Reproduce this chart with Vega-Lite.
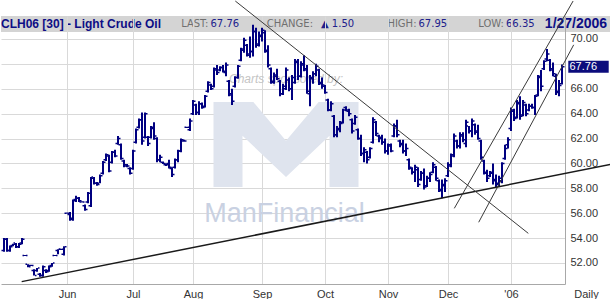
{
"$schema": "https://vega.github.io/schema/vega-lite/v6.json",
"padding": 0,
"background": "white",
"spacing": 0,
"bounds": "flush",
"config": {"view": {"stroke": null}, "concat": {"spacing": 0}, "font": "Liberation Sans"},
"datasets": {
"ohlc": [
{"i":0,"o":53.0,"h":54.0,"l":52.9,"c":53.9},{"i":1,"o":53.9,"h":54.0,"l":52.9,"c":53.0},{"i":2,"o":53.0,"h":53.4,"l":52.9,"c":53.3},{"i":3,"o":53.4,"h":53.55,"l":53.35,"c":53.5},{"i":4,"o":53.6,"h":53.6,"l":53.2,"c":53.3},{"i":5,"o":53.3,"h":53.6,"l":53.2,"c":53.5},{"i":6,"o":53.6,"h":54.0,"l":53.5,"c":53.9},{"i":7,"o":52.6,"h":52.65,"l":52.55,"c":52.6},{"i":8,"o":51.9,"h":51.9,"l":51.65,"c":51.7},{"i":9,"o":51.8,"h":51.85,"l":51.75,"c":51.8},
{"i":10,"o":51.4,"h":51.5,"l":51.0,"c":51.0},{"i":11,"o":51.4,"h":51.6,"l":51.3,"c":51.6},{"i":12,"o":51.1,"h":51.2,"l":50.9,"c":51.0},{"i":13,"o":51.0,"h":51.8,"l":50.9,"c":51.7},{"i":14,"o":51.4,"h":51.5,"l":51.2,"c":51.3},{"i":15,"o":51.4,"h":51.8,"l":51.3,"c":51.7},{"i":16,"o":51.8,"h":52.0,"l":51.7,"c":52.0},{"i":17,"o":52.6,"h":52.65,"l":52.55,"c":52.6},{"i":18,"o":53.0,"h":53.1,"l":52.7,"c":53.1},{"i":19,"o":53.1,"h":53.15,"l":53.05,"c":53.1},
{"i":20,"o":52.7,"h":53.35,"l":52.6,"c":53.3},{"i":21,"o":56.0,"h":56.05,"l":55.95,"c":56.0},{"i":22,"o":55.9,"h":56.1,"l":55.4,"c":55.5},{"i":23,"o":55.6,"h":57.1,"l":55.4,"c":57.0},{"i":24,"o":57.1,"h":57.4,"l":56.9,"c":57.2},{"i":25,"o":57.2,"h":57.3,"l":56.9,"c":57.0},{"i":26,"o":56.9,"h":56.95,"l":56.85,"c":56.9},{"i":27,"o":56.6,"h":56.7,"l":56.2,"c":56.3},{"i":28,"o":56.9,"h":57.7,"l":56.8,"c":57.6},{"i":29,"o":56.6,"h":58.9,"l":56.5,"c":58.8},
{"i":30,"o":58.9,"h":58.9,"l":58.3,"c":58.4},{"i":31,"o":58.4,"h":58.5,"l":58.2,"c":58.3},{"i":32,"o":58.4,"h":59.1,"l":58.4,"c":59.0},{"i":33,"o":59.2,"h":60.2,"l":59.1,"c":60.1},{"i":34,"o":60.3,"h":60.8,"l":60.2,"c":60.7},{"i":35,"o":60.6,"h":60.7,"l":59.3,"c":59.4},{"i":36,"o":60.1,"h":61.0,"l":60.0,"c":60.9},{"i":37,"o":60.9,"h":61.1,"l":60.5,"c":60.6},{"i":38,"o":61.6,"h":62.2,"l":61.5,"c":62.0},{"i":39,"o":61.5,"h":61.6,"l":60.3,"c":60.4},
{"i":40,"o":60.2,"h":60.3,"l":59.7,"c":59.8},{"i":41,"o":59.9,"h":59.95,"l":59.7,"c":59.8},{"i":42,"o":59.6,"h":59.7,"l":59.1,"c":59.2},{"i":43,"o":59.6,"h":61.1,"l":59.5,"c":61.0},{"i":44,"o":61.7,"h":62.8,"l":61.6,"c":62.7},{"i":45,"o":62.9,"h":63.6,"l":62.8,"c":63.5},{"i":46,"o":63.5,"h":64.1,"l":61.5,"c":61.8},{"i":47,"o":62.1,"h":64.1,"l":62.0,"c":64.0},{"i":48,"o":62.1,"h":62.2,"l":61.4,"c":61.6},{"i":49,"o":62.1,"h":63.0,"l":62.0,"c":62.9},
{"i":50,"o":62.8,"h":63.3,"l":61.9,"c":62.2},{"i":51,"o":62.0,"h":62.1,"l":60.1,"c":60.3},{"i":52,"o":60.3,"h":60.7,"l":60.1,"c":60.5},{"i":53,"o":60.1,"h":60.15,"l":59.95,"c":60.0},{"i":54,"o":59.9,"h":60.0,"l":59.8,"c":59.9},{"i":55,"o":60.0,"h":60.3,"l":59.6,"c":59.7},{"i":56,"o":59.6,"h":59.7,"l":58.9,"c":59.1},{"i":57,"o":59.7,"h":60.4,"l":59.6,"c":60.3},{"i":58,"o":60.3,"h":61.1,"l":60.1,"c":61.0},{"i":59,"o":61.0,"h":62.0,"l":60.9,"c":61.9},
{"i":60,"o":61.8,"h":61.9,"l":61.75,"c":61.8},{"i":61,"o":62.9,"h":62.95,"l":62.85,"c":62.9},{"i":62,"o":62.7,"h":63.6,"l":62.6,"c":63.4},{"i":63,"o":64.0,"h":65.1,"l":63.9,"c":65.0},{"i":64,"o":64.7,"h":64.8,"l":63.9,"c":64.1},{"i":65,"o":64.1,"h":65.0,"l":63.9,"c":64.8},{"i":66,"o":64.8,"h":64.9,"l":64.4,"c":64.5},{"i":67,"o":64.6,"h":65.5,"l":64.5,"c":65.4},{"i":68,"o":65.8,"h":66.6,"l":65.7,"c":66.5},{"i":69,"o":66.3,"h":66.4,"l":65.9,"c":66.0},
{"i":70,"o":66.2,"h":67.7,"l":66.1,"c":67.6},{"i":71,"o":67.5,"h":67.9,"l":67.1,"c":67.3},{"i":72,"o":67.5,"h":67.8,"l":67.4,"c":67.7},{"i":73,"o":67.7,"h":67.9,"l":67.3,"c":67.4},{"i":74,"o":67.3,"h":68.1,"l":67.0,"c":67.9},{"i":75,"o":66.6,"h":66.7,"l":65.4,"c":65.6},{"i":76,"o":65.5,"h":66.0,"l":64.7,"c":65.0},{"i":77,"o":66.2,"h":67.0,"l":66.1,"c":66.9},{"i":78,"o":66.9,"h":67.9,"l":66.8,"c":67.8},{"i":79,"o":68.3,"h":69.3,"l":68.2,"c":69.2},
{"i":80,"o":69.1,"h":70.1,"l":68.9,"c":69.9},{"i":81,"o":69.5,"h":69.6,"l":68.6,"c":68.8},{"i":82,"o":68.7,"h":70.2,"l":68.5,"c":69.0},{"i":83,"o":69.0,"h":71.15,"l":68.6,"c":70.6},{"i":84,"o":70.6,"h":70.9,"l":69.3,"c":69.5},{"i":85,"o":69.6,"h":70.6,"l":69.4,"c":70.3},{"i":86,"o":70.2,"h":70.9,"l":69.8,"c":70.7},{"i":87,"o":70.5,"h":70.7,"l":68.9,"c":69.1},{"i":88,"o":69.0,"h":69.5,"l":67.7,"c":67.9},{"i":89,"o":67.6,"h":67.7,"l":66.4,"c":66.6},
{"i":90,"o":66.5,"h":67.3,"l":66.4,"c":67.1},{"i":91,"o":67.0,"h":67.6,"l":66.7,"c":66.8},{"i":92,"o":66.6,"h":66.7,"l":65.4,"c":65.6},{"i":93,"o":65.6,"h":66.4,"l":65.5,"c":66.2},{"i":94,"o":66.0,"h":67.7,"l":65.9,"c":67.5},{"i":95,"o":66.7,"h":66.9,"l":65.8,"c":66.0},{"i":96,"o":66.0,"h":67.1,"l":65.1,"c":66.9},{"i":97,"o":66.5,"h":68.4,"l":66.4,"c":68.2},{"i":98,"o":68.1,"h":68.4,"l":66.7,"c":67.0},{"i":99,"o":67.0,"h":68.2,"l":66.9,"c":68.0},
{"i":100,"o":67.9,"h":68.7,"l":67.4,"c":67.6},{"i":101,"o":67.5,"h":67.9,"l":65.6,"c":65.8},{"i":102,"o":65.6,"h":67.1,"l":64.6,"c":66.9},{"i":103,"o":66.8,"h":67.4,"l":66.4,"c":67.2},{"i":104,"o":67.2,"h":68.0,"l":67.0,"c":67.8},{"i":105,"o":67.5,"h":67.6,"l":66.3,"c":66.4},{"i":106,"o":66.5,"h":66.9,"l":66.0,"c":66.3},{"i":107,"o":66.2,"h":66.3,"l":65.6,"c":65.7},{"i":108,"o":65.1,"h":65.2,"l":64.2,"c":64.3},{"i":109,"o":64.3,"h":65.0,"l":64.2,"c":64.8},
{"i":110,"o":63.8,"h":63.9,"l":62.1,"c":62.3},{"i":111,"o":62.3,"h":63.0,"l":62.1,"c":62.8},{"i":112,"o":62.7,"h":63.4,"l":62.5,"c":63.2},{"i":113,"o":63.3,"h":64.4,"l":63.2,"c":64.3},{"i":114,"o":64.5,"h":64.6,"l":64.2,"c":64.3},{"i":115,"o":64.2,"h":64.4,"l":63.8,"c":64.0},{"i":116,"o":63.5,"h":63.6,"l":62.4,"c":62.6},{"i":117,"o":63.2,"h":63.9,"l":63.1,"c":63.7},{"i":118,"o":62.7,"h":62.8,"l":61.9,"c":62.0},{"i":119,"o":62.0,"h":62.3,"l":60.6,"c":60.8},
{"i":120,"o":60.8,"h":61.3,"l":60.1,"c":61.1},{"i":121,"o":60.9,"h":61.0,"l":60.0,"c":60.3},{"i":122,"o":60.5,"h":61.3,"l":60.4,"c":61.2},{"i":123,"o":61.7,"h":63.7,"l":61.6,"c":63.5},{"i":124,"o":63.3,"h":63.4,"l":62.2,"c":62.4},{"i":125,"o":62.2,"h":62.3,"l":61.7,"c":62.0},{"i":126,"o":62.1,"h":62.3,"l":61.5,"c":61.7},{"i":127,"o":61.7,"h":62.0,"l":60.8,"c":61.0},{"i":128,"o":61.0,"h":61.6,"l":60.7,"c":61.5},{"i":129,"o":61.4,"h":61.6,"l":60.9,"c":61.0},
{"i":130,"o":62.2,"h":63.2,"l":62.1,"c":63.0},{"i":131,"o":63.0,"h":63.5,"l":62.1,"c":62.3},{"i":132,"o":61.8,"h":61.9,"l":61.3,"c":61.5},{"i":133,"o":61.6,"h":61.9,"l":60.8,"c":61.0},{"i":134,"o":61.0,"h":61.6,"l":60.6,"c":61.2},{"i":135,"o":60.3,"h":60.4,"l":59.5,"c":59.7},{"i":136,"o":59.6,"h":59.7,"l":59.1,"c":59.3},{"i":137,"o":59.3,"h":59.9,"l":58.5,"c":59.7},{"i":138,"o":59.5,"h":59.7,"l":58.1,"c":58.3},{"i":139,"o":58.7,"h":59.4,"l":58.6,"c":59.2},
{"i":140,"o":59.2,"h":59.6,"l":57.9,"c":58.1},{"i":141,"o":58.2,"h":59.0,"l":58.1,"c":58.8},{"i":142,"o":58.8,"h":59.3,"l":58.5,"c":59.1},{"i":143,"o":59.3,"h":60.1,"l":59.2,"c":59.9},{"i":144,"o":59.7,"h":59.8,"l":58.6,"c":58.8},{"i":145,"o":58.6,"h":58.7,"l":57.7,"c":57.9},{"i":146,"o":57.8,"h":58.7,"l":57.2,"c":58.3},{"i":147,"o":58.2,"h":58.8,"l":57.7,"c":58.6},{"i":148,"o":59.0,"h":60.1,"l":58.9,"c":59.9},{"i":149,"o":59.8,"h":60.8,"l":59.7,"c":60.7},
{"i":150,"o":60.6,"h":62.4,"l":60.5,"c":62.2},{"i":151,"o":61.8,"h":61.9,"l":61.2,"c":61.4},{"i":152,"o":61.4,"h":62.5,"l":61.2,"c":62.3},{"i":153,"o":62.2,"h":62.5,"l":61.7,"c":61.9},{"i":154,"o":61.6,"h":63.5,"l":61.3,"c":63.3},{"i":155,"o":63.0,"h":63.0,"l":62.4,"c":62.6},{"i":156,"o":62.6,"h":63.6,"l":62.1,"c":63.4},{"i":157,"o":63.1,"h":63.2,"l":62.3,"c":62.5},{"i":158,"o":62.6,"h":63.1,"l":61.9,"c":62.0},{"i":159,"o":61.8,"h":61.9,"l":60.3,"c":60.5},
{"i":160,"o":60.2,"h":60.3,"l":59.1,"c":59.3},{"i":161,"o":59.2,"h":59.5,"l":58.5,"c":58.8},{"i":162,"o":59.0,"h":59.4,"l":58.9,"c":59.2},{"i":163,"o":59.3,"h":60.0,"l":58.3,"c":58.6},{"i":164,"o":58.7,"h":59.1,"l":58.1,"c":58.4},{"i":165,"o":58.3,"h":59.0,"l":58.1,"c":58.8},{"i":166,"o":58.6,"h":60.1,"l":58.4,"c":60.0},{"i":167,"o":60.4,"h":61.5,"l":60.3,"c":61.2},{"i":168,"o":61.5,"h":62.1,"l":61.2,"c":61.9},{"i":169,"o":62.8,"h":64.5,"l":62.6,"c":64.3},
{"i":170,"o":64.2,"h":64.4,"l":63.4,"c":63.6},{"i":171,"o":63.7,"h":65.1,"l":63.6,"c":64.9},{"i":172,"o":64.8,"h":65.4,"l":63.5,"c":63.8},{"i":173,"o":63.9,"h":65.1,"l":63.8,"c":64.9},{"i":174,"o":64.7,"h":64.8,"l":63.8,"c":64.0},{"i":175,"o":64.3,"h":64.8,"l":64.2,"c":64.6},{"i":176,"o":64.6,"h":64.8,"l":64.4,"c":64.5},{"i":177,"o":64.5,"h":65.5,"l":63.9,"c":65.4},{"i":178,"o":65.5,"h":67.1,"l":65.4,"c":67.0},{"i":179,"o":66.9,"h":67.5,"l":65.8,"c":66.2},
{"i":180,"o":67.6,"h":68.3,"l":67.5,"c":68.2},{"i":181,"o":68.4,"h":69.2,"l":68.2,"c":68.8},{"i":182,"o":68.3,"h":68.4,"l":67.4,"c":67.6},{"i":183,"o":67.5,"h":68.1,"l":67.0,"c":67.2},{"i":184,"o":67.0,"h":67.2,"l":65.5,"c":65.8},{"i":185,"o":65.7,"h":66.7,"l":65.4,"c":66.26},{"i":186,"o":66.4,"h":67.95,"l":66.35,"c":67.76}
],
"lines": [
{"n":"support","i1":5.9,"p1":50.5,"i2":202.33,"p2":59.93},
{"n":"down","i1":77.1,"p1":73.05,"i2":174.77,"p2":54.38},
{"n":"chanUp","i1":150.1,"p1":56.39,"i2":189.7,"p2":73.05},
{"n":"chanLow","i1":158.23,"p1":55.27,"i2":189.9,"p2":69.53}
]
},
"vconcat": [
{
"hconcat": [
{"width": 160, "height": 16, "view": {"fill": "#d4d4d4", "stroke": null},
 "data": {"values": [{"t": "CLH06 [30] - Light Crude Oil"}]},
 "mark": {"type": "text", "font": "Liberation Sans", "fontWeight": "bold", "fontSize": 12, "fill": "#0d0d85", "baseline": "middle"},
 "encoding": {"text": {"field": "t"}}},
{"width": 97, "height": 16, "view": {"fill": "#d4d4d4", "stroke": null},
 "data": {"values": [{"k": "LAST:", "v": "67.76"}]},
 "layer": [
  {"mark": {"type": "text", "align": "right", "dx": -1, "font": "DejaVu Sans", "fontSize": 10, "fill": "#707070", "baseline": "middle"}, "encoding": {"text": {"field": "k"}}},
  {"mark": {"type": "text", "align": "left", "dx": 1, "font": "DejaVu Sans", "fontSize": 10, "fill": "#20208c", "baseline": "middle"}, "encoding": {"text": {"field": "v"}}}
 ]},
{"width": 118, "height": 16, "view": {"fill": "#d4d4d4", "stroke": null},
 "data": {"values": [{"k": "CHANGE:", "v": "▲ 1.50"}]},
 "layer": [
  {"mark": {"type": "text", "align": "right", "dx": -4, "font": "DejaVu Sans", "fontSize": 10, "fill": "#707070", "baseline": "middle"}, "encoding": {"text": {"field": "k"}}},
  {"mark": {"type": "text", "align": "left", "dx": 4, "font": "DejaVu Sans", "fontSize": 10, "fill": "#20208c", "baseline": "middle"}, "encoding": {"text": {"field": "v"}}}
 ]},
{"width": 83, "height": 16, "view": {"fill": "#d4d4d4", "stroke": null},
 "data": {"values": [{"k": "HIGH:", "v": "67.95"}]},
 "layer": [
  {"mark": {"type": "text", "align": "right", "dx": -1, "font": "DejaVu Sans", "fontSize": 10, "fill": "#707070", "baseline": "middle"}, "encoding": {"text": {"field": "k"}}},
  {"mark": {"type": "text", "align": "left", "dx": 1, "font": "DejaVu Sans", "fontSize": 10, "fill": "#20208c", "baseline": "middle"}, "encoding": {"text": {"field": "v"}}}
 ]},
{"width": 92, "height": 16, "view": {"fill": "#d4d4d4", "stroke": null},
 "data": {"values": [{"k": "LOW:", "v": "66.35"}]},
 "layer": [
  {"mark": {"type": "text", "align": "right", "dx": -1, "font": "DejaVu Sans", "fontSize": 10, "fill": "#707070", "baseline": "middle"}, "encoding": {"text": {"field": "k"}}},
  {"mark": {"type": "text", "align": "left", "dx": 1, "font": "DejaVu Sans", "fontSize": 10, "fill": "#20208c", "baseline": "middle"}, "encoding": {"text": {"field": "v"}}}
 ]},
{"width": 60, "height": 16, "view": {"fill": "#d4d4d4", "stroke": null},
 "data": {"values": [{"t": "1/27/2006"}]},
 "mark": {"type": "text", "font": "Liberation Sans", "fontWeight": "bold", "fontSize": 14, "fill": "#0d0d85", "baseline": "middle", "dx": -5},
 "encoding": {"text": {"field": "t"}}}
],
"spacing": 0,
"bounds": "flush"
},
{
"width": 564,
"height": 268,
"layer": [
 {"data": {"values": [{"t": "Charts sponsored by:"}]},
  "mark": {"type": "text", "font": "Liberation Sans", "fontStyle": "italic", "fontSize": 12, "fill": "#c4c4c4", "align": "center", "baseline": "middle"},
  "encoding": {
   "x": {"datum": 94, "type": "quantitative", "scale": {"domain": [-1, 187], "nice": false, "zero": false},
    "axis": {"values": [21, 43, 63, 86, 107, 128, 148, 169], "labelExpr": "{'21':'Jun','43':'Jul','63':'Aug','86':'Sep','107':'Oct','128':'Nov','148':'Dec','169':\"'06\"}[datum.value]", "grid": true, "gridColor": "#d9d9d9", "gridWidth": 1, "ticks": false, "domain": true, "domainColor": "#a8a8a8", "labelFont": "Liberation Sans", "labelFontSize": 11, "labelColor": "#333333", "labelPadding": 4, "labelFlush": false, "labelOverlap": false, "title": "Daily", "titleX": 585, "titleY": 4, "titleBaseline": "top", "titleAlign": "center", "titleFont": "Liberation Sans", "titleFontSize": 11, "titleFontWeight": "normal", "titleColor": "#333333", "zindex": 0}},
   "y": {"datum": 66.75, "type": "quantitative", "scale": {"domain": [50.31, 71.846], "nice": false, "zero": false},
    "axis": {"orient": "right", "values": [52, 54, 56, 58, 60, 62, 64, 66, 68, 70], "labelExpr": "datum.value == 68 ? '' : format(datum.value, '.2f')", "grid": true, "gridColor": "#d9d9d9", "gridWidth": 1, "ticks": false, "domain": true, "domainColor": "#a8a8a8", "labelFont": "Liberation Sans", "labelFontSize": 11, "labelColor": "#333333", "labelPadding": 5, "labelAlign": "left", "labelFlush": false, "labelOverlap": false, "title": null, "zindex": 0}},
   "text": {"field": "t"}}},
 {"data": {"values": [{"t": "M"}]},
  "mark": {"type": "point", "shape": "M -1 0.586 L -1 -0.586 L -0.45 -0.586 L 0 -0.05 L 0.45 -0.586 L 1 -0.586 L 1 0.586 L 0.6 0.586 L 0.6 -0.12 L 0 0.45 L -0.6 -0.12 L -0.6 0.586 Z", "size": 21025, "filled": true, "fill": "#dfe4ee", "opacity": 1, "strokeWidth": 0},
  "encoding": {
   "x": {"datum": 94, "type": "quantitative", "scale": {"domain": [-1, 187], "nice": false, "zero": false},
    "axis": {"values": [21, 43, 63, 86, 107, 128, 148, 169], "labelExpr": "{'21':'Jun','43':'Jul','63':'Aug','86':'Sep','107':'Oct','128':'Nov','148':'Dec','169':\"'06\"}[datum.value]", "grid": true, "gridColor": "#d9d9d9", "gridWidth": 1, "ticks": false, "domain": true, "domainColor": "#a8a8a8", "labelFont": "Liberation Sans", "labelFontSize": 11, "labelColor": "#333333", "labelPadding": 4, "labelFlush": false, "labelOverlap": false, "title": "Daily", "titleX": 585, "titleY": 4, "titleBaseline": "top", "titleAlign": "center", "titleFont": "Liberation Sans", "titleFontSize": 11, "titleFontWeight": "normal", "titleColor": "#333333", "zindex": 0}},
   "y": {"datum": 61.52, "type": "quantitative", "scale": {"domain": [50.31, 71.846], "nice": false, "zero": false},
    "axis": {"orient": "right", "values": [52, 54, 56, 58, 60, 62, 64, 66, 68, 70], "labelExpr": "datum.value == 68 ? '' : format(datum.value, '.2f')", "grid": true, "gridColor": "#d9d9d9", "gridWidth": 1, "ticks": false, "domain": true, "domainColor": "#a8a8a8", "labelFont": "Liberation Sans", "labelFontSize": 11, "labelColor": "#333333", "labelPadding": 5, "labelAlign": "left", "labelFlush": false, "labelOverlap": false, "title": null, "zindex": 0}}}},
 {"data": {"values": [{"t": "ManFinancial"}]},
  "mark": {"type": "text", "font": "Liberation Sans", "fontSize": 27, "fill": "#c9d1e2", "align": "center", "baseline": "middle"},
  "encoding": {
   "x": {"datum": 93.5, "type": "quantitative", "scale": {"domain": [-1, 187], "nice": false, "zero": false},
    "axis": {"values": [21, 43, 63, 86, 107, 128, 148, 169], "labelExpr": "{'21':'Jun','43':'Jul','63':'Aug','86':'Sep','107':'Oct','128':'Nov','148':'Dec','169':\"'06\"}[datum.value]", "grid": true, "gridColor": "#d9d9d9", "gridWidth": 1, "ticks": false, "domain": true, "domainColor": "#a8a8a8", "labelFont": "Liberation Sans", "labelFontSize": 11, "labelColor": "#333333", "labelPadding": 4, "labelFlush": false, "labelOverlap": false, "title": "Daily", "titleX": 585, "titleY": 4, "titleBaseline": "top", "titleAlign": "center", "titleFont": "Liberation Sans", "titleFontSize": 11, "titleFontWeight": "normal", "titleColor": "#333333", "zindex": 0}},
   "y": {"datum": 55.95, "type": "quantitative", "scale": {"domain": [50.31, 71.846], "nice": false, "zero": false},
    "axis": {"orient": "right", "values": [52, 54, 56, 58, 60, 62, 64, 66, 68, 70], "labelExpr": "datum.value == 68 ? '' : format(datum.value, '.2f')", "grid": true, "gridColor": "#d9d9d9", "gridWidth": 1, "ticks": false, "domain": true, "domainColor": "#a8a8a8", "labelFont": "Liberation Sans", "labelFontSize": 11, "labelColor": "#333333", "labelPadding": 5, "labelAlign": "left", "labelFlush": false, "labelOverlap": false, "title": null, "zindex": 0}},
   "text": {"field": "t"}}},
 {"data": {"name": "ohlc"},
  "mark": {"type": "rule", "color": "#000080", "strokeWidth": 2},
  "encoding": {
   "x": {"field": "i", "type": "quantitative", "scale": {"domain": [-1, 187], "nice": false, "zero": false},
    "axis": {"values": [21, 43, 63, 86, 107, 128, 148, 169], "labelExpr": "{'21':'Jun','43':'Jul','63':'Aug','86':'Sep','107':'Oct','128':'Nov','148':'Dec','169':\"'06\"}[datum.value]", "grid": true, "gridColor": "#d9d9d9", "gridWidth": 1, "ticks": false, "domain": true, "domainColor": "#a8a8a8", "labelFont": "Liberation Sans", "labelFontSize": 11, "labelColor": "#333333", "labelPadding": 4, "labelFlush": false, "labelOverlap": false, "title": "Daily", "titleX": 585, "titleY": 4, "titleBaseline": "top", "titleAlign": "center", "titleFont": "Liberation Sans", "titleFontSize": 11, "titleFontWeight": "normal", "titleColor": "#333333", "zindex": 0}},
   "y": {"field": "l", "type": "quantitative", "scale": {"domain": [50.31, 71.846], "nice": false, "zero": false},
    "axis": {"orient": "right", "values": [52, 54, 56, 58, 60, 62, 64, 66, 68, 70], "labelExpr": "datum.value == 68 ? '' : format(datum.value, '.2f')", "grid": true, "gridColor": "#d9d9d9", "gridWidth": 1, "ticks": false, "domain": true, "domainColor": "#a8a8a8", "labelFont": "Liberation Sans", "labelFontSize": 11, "labelColor": "#333333", "labelPadding": 5, "labelAlign": "left", "labelFlush": false, "labelOverlap": false, "title": null, "zindex": 0}},
   "y2": {"field": "h"}}},
 {"data": {"name": "ohlc"},
  "mark": {"type": "tick", "orient": "horizontal", "color": "#000080", "opacity": 1, "size": 1.5, "thickness": 1.5, "xOffset": -1.75},
  "encoding": {
   "x": {"field": "i", "type": "quantitative", "scale": {"domain": [-1, 187], "nice": false, "zero": false},
    "axis": {"values": [21, 43, 63, 86, 107, 128, 148, 169], "labelExpr": "{'21':'Jun','43':'Jul','63':'Aug','86':'Sep','107':'Oct','128':'Nov','148':'Dec','169':\"'06\"}[datum.value]", "grid": true, "gridColor": "#d9d9d9", "gridWidth": 1, "ticks": false, "domain": true, "domainColor": "#a8a8a8", "labelFont": "Liberation Sans", "labelFontSize": 11, "labelColor": "#333333", "labelPadding": 4, "labelFlush": false, "labelOverlap": false, "title": "Daily", "titleX": 585, "titleY": 4, "titleBaseline": "top", "titleAlign": "center", "titleFont": "Liberation Sans", "titleFontSize": 11, "titleFontWeight": "normal", "titleColor": "#333333", "zindex": 0}},
   "y": {"field": "o", "type": "quantitative", "scale": {"domain": [50.31, 71.846], "nice": false, "zero": false},
    "axis": {"orient": "right", "values": [52, 54, 56, 58, 60, 62, 64, 66, 68, 70], "labelExpr": "datum.value == 68 ? '' : format(datum.value, '.2f')", "grid": true, "gridColor": "#d9d9d9", "gridWidth": 1, "ticks": false, "domain": true, "domainColor": "#a8a8a8", "labelFont": "Liberation Sans", "labelFontSize": 11, "labelColor": "#333333", "labelPadding": 5, "labelAlign": "left", "labelFlush": false, "labelOverlap": false, "title": null, "zindex": 0}}}},
 {"data": {"name": "ohlc"},
  "mark": {"type": "tick", "orient": "horizontal", "color": "#000080", "opacity": 1, "size": 1.5, "thickness": 1.5, "xOffset": 1.75},
  "encoding": {
   "x": {"field": "i", "type": "quantitative", "scale": {"domain": [-1, 187], "nice": false, "zero": false},
    "axis": {"values": [21, 43, 63, 86, 107, 128, 148, 169], "labelExpr": "{'21':'Jun','43':'Jul','63':'Aug','86':'Sep','107':'Oct','128':'Nov','148':'Dec','169':\"'06\"}[datum.value]", "grid": true, "gridColor": "#d9d9d9", "gridWidth": 1, "ticks": false, "domain": true, "domainColor": "#a8a8a8", "labelFont": "Liberation Sans", "labelFontSize": 11, "labelColor": "#333333", "labelPadding": 4, "labelFlush": false, "labelOverlap": false, "title": "Daily", "titleX": 585, "titleY": 4, "titleBaseline": "top", "titleAlign": "center", "titleFont": "Liberation Sans", "titleFontSize": 11, "titleFontWeight": "normal", "titleColor": "#333333", "zindex": 0}},
   "y": {"field": "c", "type": "quantitative", "scale": {"domain": [50.31, 71.846], "nice": false, "zero": false},
    "axis": {"orient": "right", "values": [52, 54, 56, 58, 60, 62, 64, 66, 68, 70], "labelExpr": "datum.value == 68 ? '' : format(datum.value, '.2f')", "grid": true, "gridColor": "#d9d9d9", "gridWidth": 1, "ticks": false, "domain": true, "domainColor": "#a8a8a8", "labelFont": "Liberation Sans", "labelFontSize": 11, "labelColor": "#333333", "labelPadding": 5, "labelAlign": "left", "labelFlush": false, "labelOverlap": false, "title": null, "zindex": 0}}}},
 {"data": {"name": "lines"},
  "transform": [{"filter": "datum.n == 'support'"}],
  "mark": {"type": "rule", "color": "#1a1a1a", "strokeWidth": 1.5},
  "encoding": {
   "x": {"field": "i1", "type": "quantitative", "scale": {"domain": [-1, 187], "nice": false, "zero": false},
    "axis": {"values": [21, 43, 63, 86, 107, 128, 148, 169], "labelExpr": "{'21':'Jun','43':'Jul','63':'Aug','86':'Sep','107':'Oct','128':'Nov','148':'Dec','169':\"'06\"}[datum.value]", "grid": true, "gridColor": "#d9d9d9", "gridWidth": 1, "ticks": false, "domain": true, "domainColor": "#a8a8a8", "labelFont": "Liberation Sans", "labelFontSize": 11, "labelColor": "#333333", "labelPadding": 4, "labelFlush": false, "labelOverlap": false, "title": "Daily", "titleX": 585, "titleY": 4, "titleBaseline": "top", "titleAlign": "center", "titleFont": "Liberation Sans", "titleFontSize": 11, "titleFontWeight": "normal", "titleColor": "#333333", "zindex": 0}},
   "y": {"field": "p1", "type": "quantitative", "scale": {"domain": [50.31, 71.846], "nice": false, "zero": false},
    "axis": {"orient": "right", "values": [52, 54, 56, 58, 60, 62, 64, 66, 68, 70], "labelExpr": "datum.value == 68 ? '' : format(datum.value, '.2f')", "grid": true, "gridColor": "#d9d9d9", "gridWidth": 1, "ticks": false, "domain": true, "domainColor": "#a8a8a8", "labelFont": "Liberation Sans", "labelFontSize": 11, "labelColor": "#333333", "labelPadding": 5, "labelAlign": "left", "labelFlush": false, "labelOverlap": false, "title": null, "zindex": 0}},
   "x2": {"field": "i2"}, "y2": {"field": "p2"}}},
 {"data": {"name": "lines"},
  "transform": [{"filter": "datum.n != 'support'"}],
  "mark": {"type": "rule", "color": "#3a3a3a", "strokeWidth": 1},
  "encoding": {
   "x": {"field": "i1", "type": "quantitative", "scale": {"domain": [-1, 187], "nice": false, "zero": false},
    "axis": {"values": [21, 43, 63, 86, 107, 128, 148, 169], "labelExpr": "{'21':'Jun','43':'Jul','63':'Aug','86':'Sep','107':'Oct','128':'Nov','148':'Dec','169':\"'06\"}[datum.value]", "grid": true, "gridColor": "#d9d9d9", "gridWidth": 1, "ticks": false, "domain": true, "domainColor": "#a8a8a8", "labelFont": "Liberation Sans", "labelFontSize": 11, "labelColor": "#333333", "labelPadding": 4, "labelFlush": false, "labelOverlap": false, "title": "Daily", "titleX": 585, "titleY": 4, "titleBaseline": "top", "titleAlign": "center", "titleFont": "Liberation Sans", "titleFontSize": 11, "titleFontWeight": "normal", "titleColor": "#333333", "zindex": 0}},
   "y": {"field": "p1", "type": "quantitative", "scale": {"domain": [50.31, 71.846], "nice": false, "zero": false},
    "axis": {"orient": "right", "values": [52, 54, 56, 58, 60, 62, 64, 66, 68, 70], "labelExpr": "datum.value == 68 ? '' : format(datum.value, '.2f')", "grid": true, "gridColor": "#d9d9d9", "gridWidth": 1, "ticks": false, "domain": true, "domainColor": "#a8a8a8", "labelFont": "Liberation Sans", "labelFontSize": 11, "labelColor": "#333333", "labelPadding": 5, "labelAlign": "left", "labelFlush": false, "labelOverlap": false, "title": null, "zindex": 0}},
   "x2": {"field": "i2"}, "y2": {"field": "p2"}}},
 {"data": {"values": [{"p": 67.76, "t": "67.76"}]},
  "mark": {"type": "rule", "color": "#0c0c7c", "strokeWidth": 12, "strokeCap": "butt"},
  "encoding": {
   "x": {"datum": 188.1, "type": "quantitative", "scale": {"domain": [-1, 187], "nice": false, "zero": false},
    "axis": {"values": [21, 43, 63, 86, 107, 128, 148, 169], "labelExpr": "{'21':'Jun','43':'Jul','63':'Aug','86':'Sep','107':'Oct','128':'Nov','148':'Dec','169':\"'06\"}[datum.value]", "grid": true, "gridColor": "#d9d9d9", "gridWidth": 1, "ticks": false, "domain": true, "domainColor": "#a8a8a8", "labelFont": "Liberation Sans", "labelFontSize": 11, "labelColor": "#333333", "labelPadding": 4, "labelFlush": false, "labelOverlap": false, "title": "Daily", "titleX": 585, "titleY": 4, "titleBaseline": "top", "titleAlign": "center", "titleFont": "Liberation Sans", "titleFontSize": 11, "titleFontWeight": "normal", "titleColor": "#333333", "zindex": 0}},
   "x2": {"datum": 201.57},
   "y": {"field": "p", "type": "quantitative", "scale": {"domain": [50.31, 71.846], "nice": false, "zero": false},
    "axis": {"orient": "right", "values": [52, 54, 56, 58, 60, 62, 64, 66, 68, 70], "labelExpr": "datum.value == 68 ? '' : format(datum.value, '.2f')", "grid": true, "gridColor": "#d9d9d9", "gridWidth": 1, "ticks": false, "domain": true, "domainColor": "#a8a8a8", "labelFont": "Liberation Sans", "labelFontSize": 11, "labelColor": "#333333", "labelPadding": 5, "labelAlign": "left", "labelFlush": false, "labelOverlap": false, "title": null, "zindex": 0}}}},
 {"data": {"values": [{"p": 67.76, "t": "67.76"}]},
  "mark": {"type": "text", "font": "Liberation Sans", "fontSize": 11, "fill": "white", "align": "left", "baseline": "middle"},
  "encoding": {
   "x": {"datum": 188.5, "type": "quantitative", "scale": {"domain": [-1, 187], "nice": false, "zero": false},
    "axis": {"values": [21, 43, 63, 86, 107, 128, 148, 169], "labelExpr": "{'21':'Jun','43':'Jul','63':'Aug','86':'Sep','107':'Oct','128':'Nov','148':'Dec','169':\"'06\"}[datum.value]", "grid": true, "gridColor": "#d9d9d9", "gridWidth": 1, "ticks": false, "domain": true, "domainColor": "#a8a8a8", "labelFont": "Liberation Sans", "labelFontSize": 11, "labelColor": "#333333", "labelPadding": 4, "labelFlush": false, "labelOverlap": false, "title": "Daily", "titleX": 585, "titleY": 4, "titleBaseline": "top", "titleAlign": "center", "titleFont": "Liberation Sans", "titleFontSize": 11, "titleFontWeight": "normal", "titleColor": "#333333", "zindex": 0}},
   "y": {"field": "p", "type": "quantitative", "scale": {"domain": [50.31, 71.846], "nice": false, "zero": false},
    "axis": {"orient": "right", "values": [52, 54, 56, 58, 60, 62, 64, 66, 68, 70], "labelExpr": "datum.value == 68 ? '' : format(datum.value, '.2f')", "grid": true, "gridColor": "#d9d9d9", "gridWidth": 1, "ticks": false, "domain": true, "domainColor": "#a8a8a8", "labelFont": "Liberation Sans", "labelFontSize": 11, "labelColor": "#333333", "labelPadding": 5, "labelAlign": "left", "labelFlush": false, "labelOverlap": false, "title": null, "zindex": 0}},
   "text": {"field": "t"}}}
]
}
]
}
